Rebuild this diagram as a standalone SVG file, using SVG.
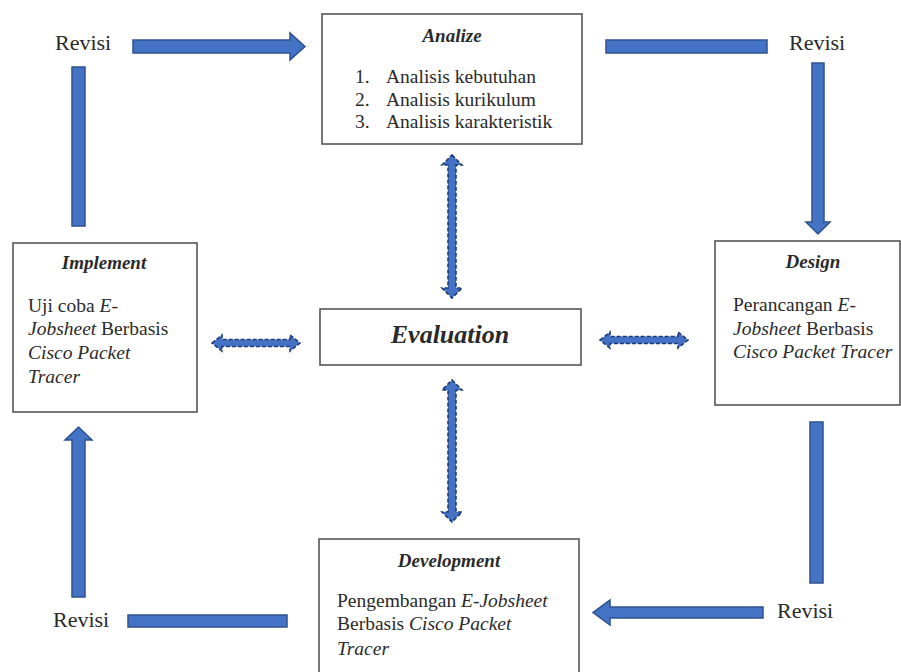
<svg xmlns="http://www.w3.org/2000/svg" width="901" height="672" viewBox="0 0 901 672">
<rect width="901" height="672" fill="#fff"/>
<g id="analize">
<rect x="322" y="14" width="260" height="130" fill="#fff" stroke="#555" stroke-width="1.6"/>
<text x="452" y="42" font-family="Liberation Serif" fill="#2a2a2a" font-size="19" font-weight="bold" font-style="italic" text-anchor="middle">Analize</text>
<text x="355" y="83" font-family="Liberation Serif" fill="#2a2a2a" font-size="19.5">1.</text>
<text x="386" y="83" font-family="Liberation Serif" fill="#2a2a2a" font-size="19.5">Analisis kebutuhan</text>
<text x="355" y="106" font-family="Liberation Serif" fill="#2a2a2a" font-size="19.5">2.</text>
<text x="386" y="106" font-family="Liberation Serif" fill="#2a2a2a" font-size="19.5">Analisis kurikulum</text>
<text x="355" y="128" font-family="Liberation Serif" fill="#2a2a2a" font-size="19.5">3.</text>
<text x="386" y="128" font-family="Liberation Serif" fill="#2a2a2a" font-size="19.5">Analisis karakteristik</text>
</g>
<g id="implement">
<rect x="13" y="243" width="184" height="169" fill="#fff" stroke="#555" stroke-width="1.6"/>
<text x="104" y="269" font-family="Liberation Serif" fill="#2a2a2a" font-size="19" font-weight="bold" font-style="italic" text-anchor="middle">Implement</text>
<text x="28" y="312" font-family="Liberation Serif" fill="#2a2a2a" font-size="19.5">Uji coba <tspan font-style="italic">E-</tspan></text>
<text x="28" y="335" font-family="Liberation Serif" fill="#2a2a2a" font-size="19.5"><tspan font-style="italic">Jobsheet</tspan> Berbasis</text>
<text x="28" y="359" font-family="Liberation Serif" fill="#2a2a2a" font-size="19.5" font-style="italic">Cisco Packet</text>
<text x="28" y="383" font-family="Liberation Serif" fill="#2a2a2a" font-size="19.5" font-style="italic">Tracer</text>
</g>
<g id="design">
<rect x="715" y="241" width="185" height="164" fill="#fff" stroke="#555" stroke-width="1.6"/>
<text x="813" y="268" font-family="Liberation Serif" fill="#2a2a2a" font-size="19" font-weight="bold" font-style="italic" text-anchor="middle">Design</text>
<text x="733" y="311" font-family="Liberation Serif" fill="#2a2a2a" font-size="19.5">Perancangan <tspan font-style="italic">E-</tspan></text>
<text x="733" y="335" font-family="Liberation Serif" fill="#2a2a2a" font-size="19.5"><tspan font-style="italic">Jobsheet</tspan> Berbasis</text>
<text x="733" y="358" font-family="Liberation Serif" fill="#2a2a2a" font-size="19.5" font-style="italic">Cisco Packet Tracer</text>
</g>
<g id="evaluation">
<rect x="320" y="309" width="261" height="56" fill="#fff" stroke="#555" stroke-width="1.6"/>
<text x="450" y="343" font-family="Liberation Serif" fill="#2a2a2a" font-size="26" font-weight="bold" font-style="italic" text-anchor="middle">Evaluation</text>
</g>
<g id="development">
<rect x="319" y="539" width="260" height="140" fill="#fff" stroke="#555" stroke-width="1.6"/>
<text x="449" y="567" font-family="Liberation Serif" fill="#2a2a2a" font-size="19" font-weight="bold" font-style="italic" text-anchor="middle">Development</text>
<text x="337" y="607" font-family="Liberation Serif" fill="#2a2a2a" font-size="19.5">Pengembangan <tspan font-style="italic">E-Jobsheet</tspan></text>
<text x="337" y="630" font-family="Liberation Serif" fill="#2a2a2a" font-size="19.5">Berbasis <tspan font-style="italic">Cisco Packet</tspan></text>
<text x="337" y="655" font-family="Liberation Serif" fill="#2a2a2a" font-size="19.5" font-style="italic">Tracer</text>
</g>
<g id="revisi-labels">
<text x="55" y="50" font-family="Liberation Serif" fill="#2a2a2a" font-size="22">Revisi</text>
<text x="789" y="50" font-family="Liberation Serif" fill="#2a2a2a" font-size="22">Revisi</text>
<text x="777" y="618" font-family="Liberation Serif" fill="#2a2a2a" font-size="22">Revisi</text>
<text x="53" y="627" font-family="Liberation Serif" fill="#2a2a2a" font-size="22">Revisi</text>
</g>
<g id="connectors">
<g fill="#4472C4" stroke="#2F528F" stroke-width="1.5">
<polygon points="133,40 290,40 290,33 305,46.5 290,60 290,53 133,53"/>
<rect x="72" y="67" width="13" height="159"/>
<rect x="606" y="40" width="161" height="13"/>
<polygon points="812,63 824,63 824,222 830,222 818,234 806,222 812,222"/>
<rect x="810" y="422" width="13" height="161"/>
<polygon points="763,607 610,607 610,600 593,612.5 610,625 610,618 763,618"/>
<rect x="128" y="615" width="159" height="12"/>
<polygon points="72,597 72,440 65,440 78.5,427 92,440 85,440 85,597"/>
</g>
<g fill="#4472C4" stroke="#1F3A78" stroke-width="1.6" stroke-dasharray="4 2">
<polygon points="212,343 222,335 222,339.5 290,339.5 290,335 300,343 290,351 290,346.5 222,346.5 222,351"/>
<polygon points="600,340 610,332 610,336.5 678,336.5 678,332 688,340 678,348 678,343.5 610,343.5 610,348"/>
<polygon points="452,155 462,165 456,165 456,288 462,288 452,298 442,288 448,288 448,165 442,165"/>
<polygon points="452,380 462,390 456,390 456,512 462,512 452,522 442,512 448,512 448,390 442,390"/>
</g>
</g>
</svg>
